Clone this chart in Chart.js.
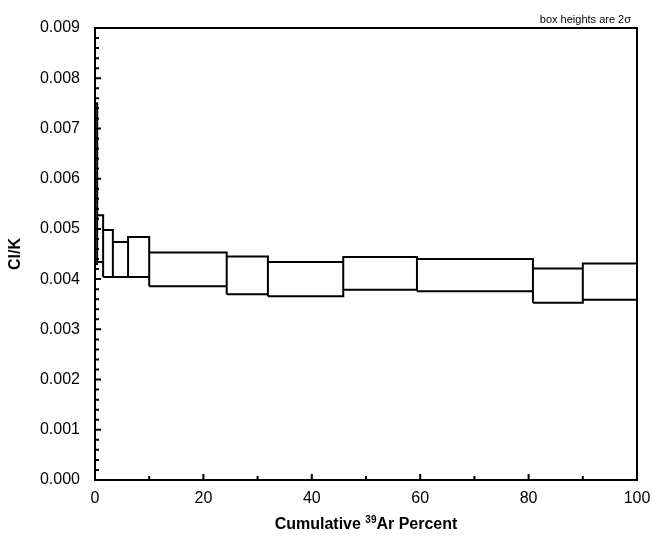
<!DOCTYPE html>
<html>
<head>
<meta charset="utf-8">
<script src="https://cdn.jsdelivr.net/npm/chart.js@4/dist/chart.umd.min.js"></script>
<style>
  html, body { margin: 0; padding: 0; background: #fff; }
  #wrap { width: 652px; height: 539px; }
</style>
</head>
<body>
<div id="wrap"><canvas id="chart"></canvas></div>
<script>
// Heating steps: cumulative 39Ar percent at start and end of each step
const stepStart = [0, 0.4, 1.5, 3.3, 6.1, 10.0, 24.3, 31.9, 45.8, 59.4, 80.8, 90.0];
const stepEnd   = [0.4, 1.5, 3.3, 6.1, 10.0, 24.3, 31.9, 45.8, 59.4, 80.8, 90.0, 100];
// Cl/K box limits (2 sigma)
const boxTop    = [0.0075, 0.00527, 0.00498, 0.00474, 0.00484, 0.00453, 0.00445, 0.00434, 0.00444, 0.00440, 0.00421, 0.00431];
const boxBottom = [0.0043, 0.00434, 0.00404, 0.00404, 0.00404, 0.00386, 0.00370, 0.00366, 0.00379, 0.00376, 0.00353, 0.00359];
// Axis ticks
const xTicks = [0, 20, 40, 60, 80, 100];
const xMinor = [10, 30, 50, 70, 90];
const yMax = 0.009;

const font = 'Arial, "Liberation Sans", sans-serif';

// Build the outline of each box as a closed path, with a gap between boxes
const boxPoints = [];
stepStart.forEach(function(x0, i) {
    const x1 = stepEnd[i];
    boxPoints.push({ x: x0, y: boxBottom[i] });
    boxPoints.push({ x: x0, y: boxTop[i] });
    boxPoints.push({ x: x1, y: boxTop[i] });
    boxPoints.push({ x: x1, y: boxBottom[i] });
    boxPoints.push({ x: x0, y: boxBottom[i] });
    boxPoints.push({ x: x1, y: null });
});

// Frame, inward ticks and the text around the plot
const framePlugin = {
    id: 'frame',
    afterDraw(chart) {
        const ctx = chart.ctx;
        const a = chart.chartArea;
        const xs = chart.scales.x;
        const ys = chart.scales.y;
        ctx.save();
        ctx.strokeStyle = '#000';
        ctx.lineWidth = 2;
        ctx.strokeRect(a.left, a.top, a.right - a.left, a.bottom - a.top);

        // x ticks pointing up
        ctx.beginPath();
        xTicks.forEach(function(v) {
            const px = xs.getPixelForValue(v);
            ctx.moveTo(px, a.bottom);
            ctx.lineTo(px, a.bottom - 6);
        });
        xMinor.forEach(function(v) {
            const px = xs.getPixelForValue(v);
            ctx.moveTo(px, a.bottom);
            ctx.lineTo(px, a.bottom - 4);
        });
        // y ticks pointing right, minor every 0.0002
        for (let k = 0; k <= 45; k++) {
            const v = k * 0.0002;
            const py = ys.getPixelForValue(v);
            const len = (k % 5 === 0) ? 6 : 4;
            ctx.moveTo(a.left, py);
            ctx.lineTo(a.left + len, py);
        }
        ctx.stroke();

        ctx.fillStyle = '#000';
        // y axis title
        ctx.save();
        ctx.translate(16, (a.top + a.bottom) / 2);
        ctx.rotate(-Math.PI / 2);
        ctx.font = 'bold 16px ' + font;
        ctx.textAlign = 'center';
        ctx.textBaseline = 'middle';
        ctx.fillText('Cl/K', 0, 0);
        ctx.restore();

        // x axis title with superscript 39
        const partA = 'Cumulative ';
        const sup = '39';
        const partB = 'Ar Percent';
        const big = 'bold 16px ' + font;
        const small = 'bold 10px ' + font;
        ctx.font = big;
        const wA = ctx.measureText(partA).width;
        const wB = ctx.measureText(partB).width;
        ctx.font = small;
        const wS = ctx.measureText(sup).width;
        let x = (a.left + a.right) / 2 - (wA + wS + wB) / 2;
        const y = 529;
        ctx.textAlign = 'left';
        ctx.textBaseline = 'alphabetic';
        ctx.font = big;
        ctx.fillText(partA, x, y);
        x += wA;
        ctx.font = small;
        ctx.fillText(sup, x, y - 6);
        x += wS;
        ctx.font = big;
        ctx.fillText(partB, x, y);

        // note in the top right corner
        ctx.font = '11px ' + font;
        ctx.textAlign = 'right';
        ctx.textBaseline = 'alphabetic';
        ctx.fillText('box heights are 2\u03C3', a.right - 6, a.top - 5);
        ctx.restore();
    }
};

new Chart(document.getElementById('chart'), {
    type: 'scatter',
    data: {
        datasets: [{
            data: boxPoints,
            showLine: true,
            spanGaps: false,
            borderColor: '#000',
            borderWidth: 2,
            pointRadius: 0,
            pointHoverRadius: 0,
            tension: 0
        }]
    },
    options: {
        responsive: true,
        maintainAspectRatio: false,
        animation: false,
        events: [],
        layout: { padding: { top: 28, right: 15, left: 0, bottom: 0 } },
        plugins: {
            legend: { display: false },
            tooltip: { enabled: false }
        },
        scales: {
            x: {
                type: 'linear',
                min: 0,
                max: 100,
                grid: { display: false, drawTicks: false },
                border: { display: false },
                ticks: {
                    stepSize: 20,
                    padding: 9,
                    color: '#000',
                    font: { family: font, size: 16 }
                },
                afterFit(scale) {
                    scale.height = 59;
                    scale.paddingLeft = 0;
                    scale.paddingRight = 0;
                }
            },
            y: {
                type: 'linear',
                min: 0,
                max: yMax,
                grid: { display: false, drawTicks: false },
                border: { display: false },
                ticks: {
                    stepSize: 0.001,
                    padding: 15,
                    color: '#000',
                    font: { family: font, size: 16 },
                    callback: function(v) { return v.toFixed(3); }
                },
                afterFit(scale) {
                    scale.width = 95;
                    scale.paddingTop = 0;
                    scale.paddingBottom = 0;
                }
            }
        }
    },
    plugins: [framePlugin]
});
</script>
</body>
</html>
